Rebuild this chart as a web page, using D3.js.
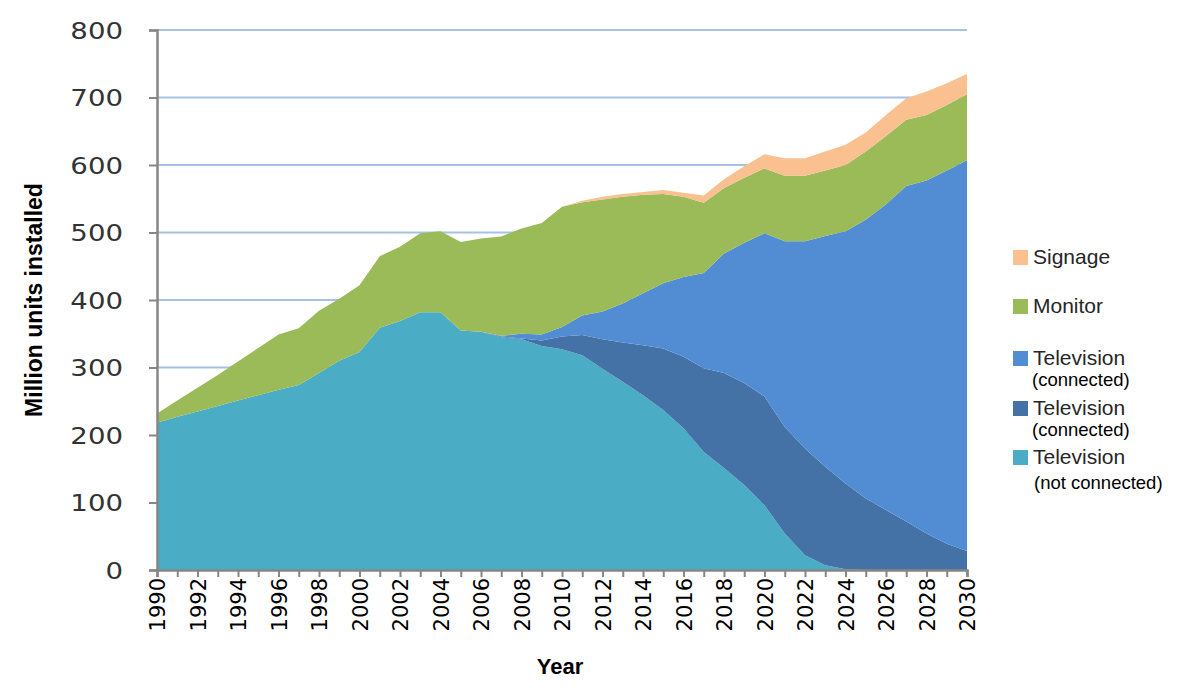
<!DOCTYPE html>
<html>
<head>
<meta charset="utf-8">
<script src="https://cdn.jsdelivr.net/npm/d3@7"></script>
<style>
  body { margin: 0; background: #fff; }
  text { font-family: "Liberation Sans", Arial, sans-serif; }
</style>
</head>
<body>
<div id="chart"></div>
<script>
// years on the x axis
const years = d3.range(1990, 2031);

// installed base, million units, one value per year 1990..2030
const tvNotConnected = [218,227,235,243,251,259,267,274,292,310,323,359,369,382,382,355,353,345,342,332,
  327,318,298,279,259,237,210,175,151,126,96,54,22,7,1,0,0,0,0,0,0];
const tvConnectedDark = [0,0,0,0,0,0,0,0,0,0,0,0,0,0,0,0,0,1,1,8,
  19,30,44,58,74,91,106,124,141,151,161,158,158,146,127,106,89,72,54,39,28];
const tvConnectedLight = [0,0,0,0,0,0,0,0,0,0,0,0,0,0,0,0,0,1,7,9,
  14,29,41,58,77,97,118,141,177,208,242,275,307,342,374,413,453,497,523,553,579];
const monitor = [14,24,35,46,58,70,82,84,92,92,99,106,110,117,120,131,138,147,156,165,
  178,168,166,158,146,132,119,104,97,96,96,97,97,97,98,101,101,98,97,97,98];
const signage = [0,0,0,0,0,0,0,0,0,0,0,0,0,0,0,0,0,0,0,0,
  0,2,4,4,4,6,6,11,13,17,21,26,26,28,30,28,31,32,35,32,30];

const seriesKeys = ["tvNot", "tvDark", "tvLight", "monitor", "signage"];
const colors = {tvNot: "#4BACC6", tvDark: "#4471A6", tvLight: "#528DD4", monitor: "#9BBB59", signage: "#FAC090"};

const yTicks = [0,100,200,300,400,500,600,700,800];

let table = years.map((y, i) => ({
  year: y,
  tvNot: tvNotConnected[i],
  tvDark: tvConnectedDark[i],
  tvLight: tvConnectedLight[i],
  monitor: monitor[i],
  signage: signage[i]
}));

const W = 1200, H = 698;
const margin = {top: 30, right: 233, bottom: 128, left: 157};
const width = W - margin.left - margin.right;
const height = H - margin.top - margin.bottom;

const svg = d3.select("#chart").append("svg")
  .attr("width", W).attr("height", H);

const g = svg.append("g")
  .attr("transform", "translate(" + margin.left + "," + margin.top + ")");

const x = d3.scaleLinear().domain([1990, 2030]).range([0, width]);
const y = d3.scaleLinear().domain([0, 800]).range([height, 0]);

// gridlines
g.selectAll(".grid")
  .data(yTicks.filter(d => d > 0))
  .enter().append("line")
  .attr("class", "grid")
  .attr("x1", 0).attr("x2", width)
  .attr("y1", d => y(d)).attr("y2", d => y(d))
  .style("stroke", "#A7C1E3")
  .style("stroke-width", 2);

// stacked areas
const stack = d3.stack().keys(seriesKeys);
const layers = stack(table);

const area = d3.area()
  .x(d => x(d.data.year))
  .y0(d => y(d[0]))
  .y1(d => y(d[1]));

g.selectAll(".layer")
  .data(layers)
  .enter().append("path")
  .attr("class", "layer")
  .attr("d", area)
  .style("fill", d => colors[d.key]);

// y axis (labels a little wide, as in the original)
const yAxis = g.append("g")
  .call(d3.axisLeft(y).tickValues(yTicks).tickSize(8));
yAxis.select(".domain").style("stroke", "#868686").style("stroke-width", 2.5);
yAxis.selectAll(".tick line").style("stroke", "#868686").style("stroke-width", 2);
yAxis.selectAll(".tick text")
  .attr("x", 0)
  .attr("dy", "0.35em")
  .attr("transform", "translate(-34,0) scale(1.2,1)")
  .style("text-anchor", "end")
  .style("font-family", "'DejaVu Sans', Verdana, sans-serif")
  .style("font-size", "23px")
  .style("fill", "#333");

// x axis
const xAxis = g.append("g")
  .attr("transform", "translate(0," + height + ")")
  .call(d3.axisBottom(x).tickValues(years).tickSize(7).tickFormat(d => d % 2 === 0 ? d : ""));
xAxis.select(".domain").style("stroke", "#868686").style("stroke-width", 2.5);
xAxis.selectAll(".tick line").style("stroke", "#868686").style("stroke-width", 2);
xAxis.selectAll(".tick text")
  .attr("transform", "rotate(-90)")
  .attr("x", -8)
  .attr("y", 0)
  .attr("dy", "0.36em")
  .style("text-anchor", "end")
  .style("font-family", "'DejaVu Sans', Verdana, sans-serif")
  .style("font-size", "21px")
  .style("fill", "#000");

// axis titles
svg.append("text")
  .attr("transform", "translate(42," + 300 + ") rotate(-90)")
  .style("text-anchor", "middle")
  .style("font-weight", "bold")
  .style("font-size", "23px")
  .style("fill", "#000")
  .text("Million units installed");

svg.append("text")
  .attr("x", 560).attr("y", 674)
  .style("text-anchor", "middle")
  .style("font-weight", "bold")
  .style("font-size", "22px")
  .style("fill", "#000")
  .text("Year");

// legend
const legendItems = [
  {key: "signage", label: "Signage", sub: null, y: 257},
  {key: "monitor", label: "Monitor", sub: null, y: 306},
  {key: "tvLight", label: "Television", sub: "(connected)", y: 358},
  {key: "tvDark", label: "Television", sub: "(connected)", y: 408},
  {key: "tvNot", label: "Television", sub: "(not connected)", y: 457}
];

const legend = svg.append("g").attr("transform", "translate(1013,0)");
const item = legend.selectAll(".item")
  .data(legendItems)
  .enter().append("g")
  .attr("class", "item")
  .attr("transform", d => "translate(0," + d.y + ")");

item.append("rect")
  .attr("x", 0).attr("y", -7)
  .attr("width", 15).attr("height", 15)
  .style("fill", d => colors[d.key]);

item.append("text")
  .attr("x", 20).attr("y", 7)
  .style("font-size", "21px")
  .style("fill", "#262626")
  .text(d => d.label);

item.filter(d => d.sub)
  .append("text")
  .attr("x", d => d.key === "tvNot" ? 21 : 19)
  .attr("y", d => d.key === "tvNot" ? 32 : 28)
  .style("font-size", "18.5px")
  .style("fill", "#000")
  .text(d => d.sub);
</script>
</body>
</html>
